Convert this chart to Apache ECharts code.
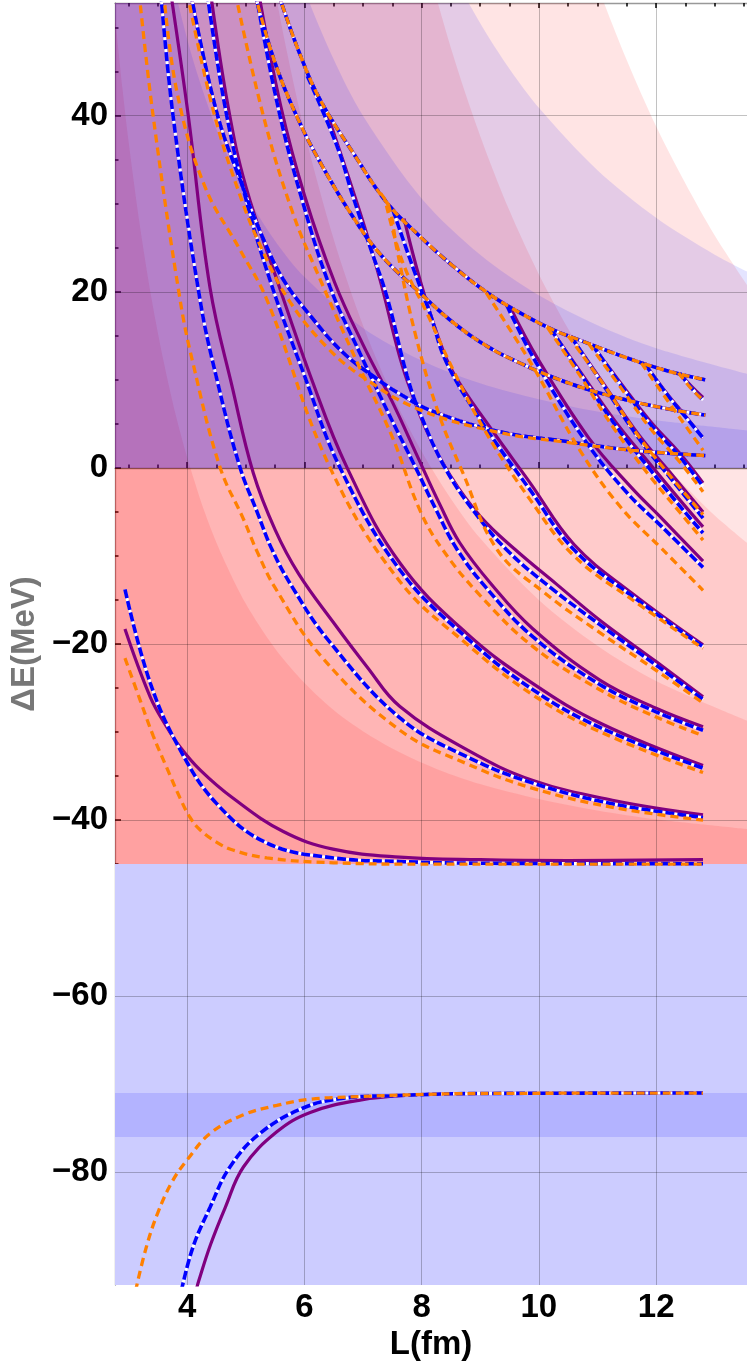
<!DOCTYPE html>
<html><head><meta charset="utf-8">
<script src="https://cdn.jsdelivr.net/npm/echarts@6/dist/echarts.min.js"></script>
<style>html,body{margin:0;padding:0;background:#fff}#c{width:747px;height:1368px}</style>
</head><body><div id="c"></div><script>
// ---- axis ranges & ticks ----
const X_MIN = 2.77, X_MAX = 13.55, Y_MIN = -92.8, Y_MAX = 52.8;
const xMajor = [4, 6, 8, 10, 12];
const xMinor = [3, 3.5, 4.5, 5, 5.5, 6.5, 7, 7.5, 8.5, 9, 9.5, 10.5, 11, 11.5, 12.5, 13, 13.5];
const yMajor = [-80, -60, -40, -20, 0, 20, 40];
const yMinor = [-90, -85, -75, -70, -65, -55, -50, -45, -35, -30, -25, -15, -10, -5, 5, 10, 15, 25, 30, 35, 45, 50];

// ---- shaded band boundaries (L, E) ----
const shadeR1 = [[2.77,51.4],[2.9,43],[3.0,37.2],[3.2,27.3],[3.4,19],[3.6,12.1],[3.8,6.2],[4.0,1.25],[4.3,-5],[4.6,-10],[5.0,-15.4],[5.5,-20.5],[6.0,-24.4],[6.5,-27.5],[7.0,-29.9],[7.6,-32.2],[8.3,-34.3],[9.0,-35.9],[10,-37.6],[11,-38.9],[12,-39.9],[13.55,-41]];
const shadeR2 = [[2.77,346],[3.5,200],[4.0,142.5],[4.5,103],[5.0,75],[5.5,54.2],[6.0,38.3],[6.5,26],[7.0,16.2],[7.5,8.3],[8.0,1.9],[8.5,-3.5],[9.0,-8],[10,-15],[11,-20.2],[12,-24.2],[13.55,-28.7]];
const shadeR3 = [[2.77,828],[4,374],[5,223],[6,141],[7,91.7],[7.5,74],[8,59.7],[8.5,47.7],[9,37.7],[9.5,29.2],[10,22],[10.5,15.8],[11,10.4],[11.5,5.7],[12,1.5],[12.5,-2.1],[13,-5.4],[13.55,-8.5]];
const shadeR4 = [[2.77,1529],[5,438],[7,201],[8,143.7],[9,104],[10,75.7],[10.5,64.5],[11,54.8],[11.5,46.3],[12,38.8],[12.5,32.3],[13,26.4],[13.55,20.8]];
const shadeB1 = [[2.77,101.7],[3.5,63.7],[4,48.75],[4.5,38.5],[5,31.2],[5.5,25.8],[6,21.7],[7,15.9],[8,12.2],[9,9.6],[10,7.8],[11,6.4],[12,5.4],[13.55,4.25]];
const shadeB2 = [[2.77,255],[4,122.5],[5,78.4],[5.5,64.8],[6,54.4],[6.5,46.4],[7,40],[8,30.6],[9,24.2],[10,19.6],[11,16.2],[12,13.6],[13.55,10.7]];
const shadeB3 = [[2.77,533],[5,163.6],[7,83.5],[8,63.9],[8.5,56.6],[9,50.5],[9.5,45.3],[10,40.9],[11,33.8],[12,28.4],[13,24.2],[13.55,22.3]];
const lowerBand = [-92.8, -45];
const boundBand = [-76, -71];

// ---- energy levels: purple (P), blue dashed (B), orange dashed (O) ----
const bndP = [[4.13,-94],[4.2,-92.3],[4.4,-88.2],[4.65,-84],[4.96,-79.4],[5.53,-75.4],[6.1,-73.2],[6.95,-71.8],[7.8,-71.25],[9,-71.05],[12.8,-71]];
const bndB = [[3.9,-93.5],[4.1,-88.5],[4.39,-84],[4.73,-79.4],[5.24,-75.6],[5.98,-72.7],[6.66,-71.6],[7.51,-71.3],[9,-71.05],[12.8,-71]];
const bndO = [[3.12,-93.5],[3.3,-88.6],[3.5,-84.6],[3.75,-81],[4.0,-78.6],[4.39,-75.6],[4.95,-73.5],[5.53,-72.4],[6.1,-71.7],[6.95,-71.4],[7.8,-71.2],[9,-71.05],[12.8,-71]];

const g0P = [[2.94,-18.3],[3.37,-26],[3.65,-29.4],[3.88,-31.7],[4.22,-34.3],[4.78,-37.5],[5.64,-41.3],[6.49,-43.3],[7.63,-44.2],[9,-44.5],[10.5,-44.6],[12.8,-44.5]];
const g0B = [[2.94,-13.8],[3.37,-24.4],[3.88,-32],[4.5,-38.1],[5.36,-42.6],[6.5,-44.3],[7.63,-44.7],[9,-44.9],[12.8,-44.95]];
const g0O = [[2.94,-21.6],[3.2,-26.4],[3.42,-30.4],[3.65,-34],[3.88,-37.5],[4.05,-39.7],[4.22,-41.1],[4.5,-42.5],[4.78,-43.4],[5.36,-44.3],[6.5,-44.85],[8,-45],[12.8,-45]];

const g1P = [[3.72,54],[4.02,40],[4.39,20.5],[4.78,8.9],[5.13,-0.6],[5.5,-7],[5.9,-12],[6.49,-17.5],[7.07,-22.6],[7.63,-27.1],[8.77,-32],[9.9,-35.5],[11.3,-37.8],[12.8,-39.4]];
const g1B = [[3.55,54],[3.76,40],[4.22,19.1],[4.51,10],[4.9,0.1],[5.2,-5.1],[5.45,-9.3],[5.8,-13.6],[6.4,-19.5],[7.63,-28.4],[8.77,-32.8],[9.9,-35.8],[11.3,-38.2],[12.8,-39.7]];
const g1O = [[3.18,54],[3.42,40],[3.88,19.1],[4.1,11.9],[4.56,0.1],[4.96,-5.8],[5.2,-9.6],[5.5,-13.6],[6.3,-21.5],[7.63,-29.8],[8.77,-33.6],[9.9,-36.4],[11.3,-38.6],[12.8,-40]];

const g2P = [[4.4,54],[4.7,41],[5.0,32],[5.53,21.4],[6.1,10.5],[6.73,0],[7.63,-10.8],[8.77,-18.8],[9.9,-24.5],[11.05,-29],[12.8,-33.8]];
const g2B = [[4.34,54],[4.62,42],[4.95,31.9],[5.41,21.4],[6.0,10.5],[6.61,0],[7.63,-11.6],[8.77,-19.3],[9.9,-25.2],[11.05,-29.5],[12.8,-34.1]];
const g2O = [[3.6,54],[3.83,42.6],[4.3,32],[4.9,24.8],[5.36,19.1],[6.44,0],[7.63,-12.9],[8.77,-20],[9.9,-25.8],[11.05,-30],[12.8,-34.6]];

const g3P = [[5.22,54],[5.6,41],[6.0,31],[6.52,21],[7.0,14],[7.5,7.5],[7.95,1],[8.3,-4],[8.65,-8.5],[9.2,-13.3],[9.9,-18.3],[11.04,-24.1],[12.0,-27.3],[12.8,-29.4]];
const g3B = [[5.17,54],[5.55,41],[5.98,30],[6.44,20.5],[6.95,13],[7.45,6],[7.9,0],[8.25,-4.8],[8.6,-9.2],[9.1,-13.6],[9.9,-19.2],[11.04,-24.6],[12.0,-27.7],[12.8,-29.8]];
const g3O = [[4.82,54],[5.3,40],[5.8,29],[6.27,21.4],[6.9,12],[7.5,3.5],[7.97,-4.8],[8.36,-9.3],[9.0,-14.5],[9.9,-20.3],[11.04,-25.2],[12.0,-28.3],[12.8,-30.4]];

const g4P = [[6.4,40],[6.95,29],[7.29,21.4],[7.58,13.75],[7.75,10],[8.1,4],[8.5,-1],[9.0,-5.5],[9.6,-9.3],[10.3,-13.2],[11.04,-17.3],[12.0,-22],[12.8,-26]];
const g4B = [[6.05,44.5],[6.56,36.5],[6.83,30.8],[7.12,25.1],[7.41,19.4],[7.75,10.5],[7.97,6.25],[8.4,0],[8.9,-5],[9.45,-9.3],[10.2,-13.6],[11.04,-17.8],[12.0,-22.4],[12.8,-26.3]];
const g4O = [[7.3,31.2],[7.45,29.5],[7.58,24.8],[7.9,15],[8.3,6],[8.7,-0.5],[9.29,-9.3],[10.1,-14.2],[11.04,-18.7],[12.0,-23],[12.8,-26.7]];

const g5P = [[7.7,28.3],[7.97,21.4],[8.26,15.3],[8.54,10.8],[9.2,4.3],[9.85,-1.7],[10.6,-8.7],[11.6,-14.3],[12.8,-20.1]];
const g5B = [[7.51,29.3],[7.85,22.8],[8.14,17.6],[8.43,11.9],[9.1,4.5],[9.85,-2.5],[10.6,-9.3],[11.6,-14.6],[12.8,-20.3]];
const g5O = [[7.4,29.8],[7.68,23.3],[8.09,17.6],[8.54,11.1],[9.1,4],[9.85,-3.6],[10.6,-10],[11.6,-15],[12.8,-20.5]];

const g6P = [[9.5,18.4],[9.99,12.3],[10.84,3.5],[11.56,-2.1],[12.12,-5.9],[12.8,-10.6]];
const g6B = [[9.45,18.5],[9.95,12],[10.8,3],[11.5,-2.8],[12.1,-6.7],[12.8,-11.3]];
const g6O = [[9.1,19.9],[9.9,11.5],[10.7,2],[11.4,-4.5],[12.1,-9.2],[12.8,-13.9]];

const g7P = [[10.2,15.8],[10.7,11],[11.3,5.3],[11.9,0.4],[12.4,-3.6],[12.8,-6.7]];
const g7B = [[10.2,15.8],[10.7,10.8],[11.3,4.9],[11.9,-0.2],[12.4,-4.3],[12.8,-7.4]];
const g7O = [[10.15,15.9],[10.7,10.5],[11.3,4.3],[11.9,-1],[12.4,-5],[12.8,-8.2]];

const g8P = [[10.55,14.9],[11.1,9.6],[11.7,3.8],[12.3,-1.0],[12.8,-5.0]];
const g8B = [[10.55,14.9],[11.1,9.4],[11.7,3.4],[12.3,-1.6],[12.8,-5.7]];
const g8O = [[10.5,15.0],[11.1,9.5],[11.7,3.6],[12.3,-1.4],[12.8,-5.3]];

const g9P = [[10.91,14.0],[11.4,9.6],[11.9,5.3],[12.4,1.7],[12.8,-1.7]];
const g9B = [[10.91,14.0],[11.4,9.4],[11.9,5.0],[12.4,1.3],[12.8,-2.1]];
const g9O = [[10.85,14.1],[11.4,9.1],[11.9,4.5],[12.4,0.7],[12.8,-2.7]];

const g10P = [[11.81,11.8],[12.2,8.3],[12.5,5.9],[12.8,3.4]];
const g10B = [[11.81,11.8],[12.2,8.2],[12.5,5.8],[12.8,3.4]];
const g10O = [[11.75,11.9],[12.2,7.6],[12.5,4.8],[12.8,2.0]];

const g11P = [[12.41,10.7],[12.6,9.3],[12.8,8.0]];
const g11B = [[12.41,10.7],[12.6,9.1],[12.8,7.7]];
const g11O = [[12.38,10.8],[12.6,9.0],[12.8,7.7]];

// shallow (upper-channel) levels, nearly identical for all three
const s1P = [[5.55,54],[5.9,47.4],[6.27,41.8],[6.83,35.8],[7.41,30.1],[7.97,26.3],[8.54,22.9],[9.12,19.9],[9.68,17.6],[10.24,15.7],[10.7,14.5],[11.5,12.5],[12.2,11.0],[12.84,10.0]];
const s1B = s1P, s1O = s1P;
const s2P = [[5.15,54],[5.5,46],[5.9,39.5],[6.27,34.7],[6.8,28.8],[7.29,24.3],[7.97,19.9],[8.54,16.5],[9.12,13.8],[9.68,11.9],[10.24,10.3],[10.84,8.9],[11.5,7.7],[12.2,6.7],[12.84,6.0]];
const s2B = s2P, s2O = s2P;
const s3P = [[4.06,54],[4.5,40.5],[4.95,31.9],[5.3,26],[5.64,21.4],[6.1,17.3],[6.66,13.1],[7.24,10.1],[7.63,8.4],[8.2,6.4],[9.34,4.1],[10.48,3.0],[11.6,2.0],[12.84,1.4]];
const s3B = s3P;
const s3O = [[4.0,54],[4.45,40.5],[4.9,31],[5.3,24.5],[5.76,18.8],[6.4,13.6],[7.0,10.3],[7.97,6.6],[9.34,4.0],[10.48,2.9],[11.6,2.0],[12.84,1.4]];

const levelGroups = [
  [bndP,bndB,bndO],[g0P,g0B,g0O],[g1P,g1B,g1O],[g2P,g2B,g2O],[g3P,g3B,g3O],[g4P,g4B,g4O],
  [g5P,g5B,g5O],[g6P,g6B,g6O],[g7P,g7B,g7O],[g8P,g8B,g8O],[g9P,g9B,g9O],[g10P,g10B,g10O],[g11P,g11B,g11O],
  [s1P,s1B,s1O],[s2P,s2B,s2O],[s3P,s3B,s3O]
];

// ---- build chart ----
const FONT = '"Liberation Sans", Arial, sans-serif';
const PURPLE = '#800080', BLUE = '#0000ff', ORANGE = '#ff8000';
const RED_FILL = 'rgba(255,0,0,0.106)', BLUE_FILL = 'rgba(0,0,255,0.106)';
const series = [];

function shade(data, color, origin) {
  series.push({type:'line', data, symbol:'none', smooth:0.3, silent:true, z:1,
    lineStyle:{width:0, opacity:0}, areaStyle:{color, origin, opacity:1}});
}
[shadeR1, shadeR2, shadeR3, shadeR4].forEach(d => shade(d, RED_FILL, -45));
[shadeB1, shadeB2, shadeB3].forEach(d => shade(d, BLUE_FILL, 0));

series.push({type:'line', data:[], silent:true, z:1,
  markArea:{silent:true, data:[
    [{yAxis:lowerBand[0], itemStyle:{color:'#ccccff'}},{yAxis:lowerBand[1]}],
    [{yAxis:boundBand[0], itemStyle:{color:'rgba(0,0,255,0.12)'}},{yAxis:boundBand[1]}]
  ]}});
series.push({type:'line', data:[], silent:true, z:3,
  markLine:{silent:true, symbol:'none', label:{show:false}, animation:false,
    lineStyle:{color:'rgba(0,0,0,0.24)', width:1, type:'solid'},
    data:[...xMajor.map(v=>({xAxis:v})), ...yMajor.map(v=>({yAxis:v}))]}});

function level(data, kind) {
  const base = {type:'line', data, symbol:'none', smooth:0.4, silent:true, clip:true};
  if (kind === 'P') series.push({...base, z:5, lineStyle:{color:PURPLE, width:3.2}});
  if (kind === 'B') {
    series.push({...base, z:6, lineStyle:{color:'#ffffff', width:2.8}});
    series.push({...base, z:7, lineStyle:{color:BLUE, width:3.6, type:[9,3]}});
  }
  if (kind === 'O') series.push({...base, z:8, lineStyle:{color:ORANGE, width:3.3, type:[8,5]}});
}
levelGroups.forEach(g => { level(g[0],'P'); level(g[1],'B'); level(g[2],'O'); });

const labelStyle = {fontFamily:FONT, fontWeight:'bold', fontSize:33, color:'#000'};
const tickLine = {color:'#000', width:1.5};
const axisBase = {type:'value', splitLine:{show:false}};
const option = {
  animation:false,
  backgroundColor:'#fff',
  grid:{left:115, right:0, top:3, bottom:83, containLabel:false},
  xAxis:[
    {...axisBase, position:'bottom', min:X_MIN, max:X_MAX,
      axisLine:{show:true, lineStyle:{color:'#999', width:1.3}},
      axisTick:{show:true, inside:true, length:6, customValues:xMajor, lineStyle:tickLine},
      axisLabel:{...labelStyle, customValues:xMajor, margin:6},
      name:'L(fm)', nameLocation:'middle', nameGap:40, nameTextStyle:{...labelStyle}},
    {...axisBase, position:'bottom', min:X_MIN, max:X_MAX, axisLine:{show:false},
      axisTick:{show:true, inside:true, length:3.5, customValues:xMinor, lineStyle:tickLine},
      axisLabel:{show:false}},
    {...axisBase, position:'top', min:X_MIN, max:X_MAX,
      axisLine:{show:true, lineStyle:{color:'#999', width:1.3}},
      axisTick:{show:true, inside:true, length:5, customValues:xMajor, lineStyle:tickLine},
      axisLabel:{show:false}},
    {...axisBase, position:'top', min:X_MIN, max:X_MAX, axisLine:{show:false},
      axisTick:{show:true, inside:true, length:3.5, customValues:xMinor, lineStyle:tickLine},
      axisLabel:{show:false}}
  ],
  yAxis:[
    {...axisBase, position:'left', min:Y_MIN, max:Y_MAX,
      axisLine:{show:true, lineStyle:{color:'#999', width:1.3}},
      axisTick:{show:true, inside:true, length:6, customValues:yMajor, lineStyle:tickLine},
      axisLabel:{...labelStyle, customValues:yMajor, margin:7,
        formatter:v => (v < 0 ? '\u2212' + Math.abs(v) : String(v))},
      name:'\u0394E(MeV)', nameLocation:'middle', nameRotate:90, nameGap:70,
      nameTextStyle:{...labelStyle, color:'#777'}},
    {...axisBase, position:'left', min:Y_MIN, max:Y_MAX, axisLine:{show:false},
      axisTick:{show:true, inside:true, length:3.5, customValues:yMinor, lineStyle:tickLine},
      axisLabel:{show:false}}
  ],
  series
};
const chart = echarts.init(document.getElementById('c'));
chart.setOption(option);
</script></body></html>
